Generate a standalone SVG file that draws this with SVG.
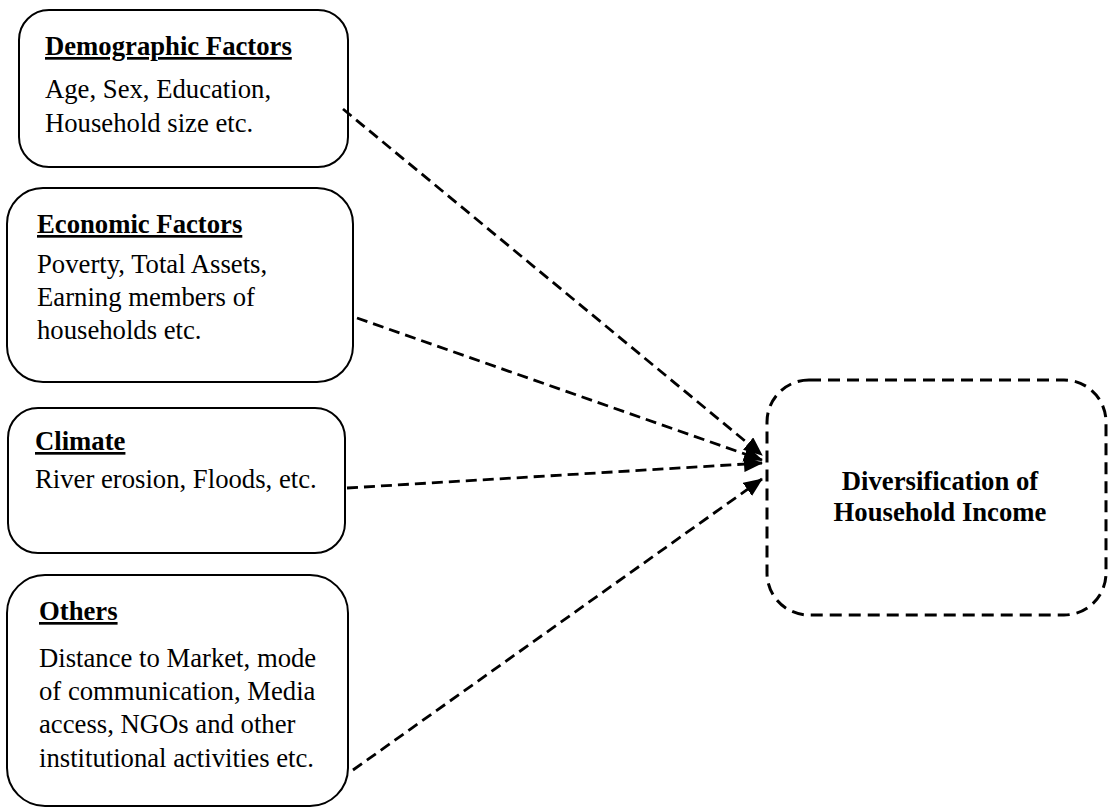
<svg xmlns="http://www.w3.org/2000/svg" width="1108" height="810" viewBox="0 0 1108 810">
<style>
.box{fill:#fff;stroke:#000;stroke-width:2}
.tbox{fill:#fff;stroke:#000;stroke-width:3;stroke-dasharray:12 7}
.h{font-family:"Liberation Serif",serif;font-size:26.7px;font-weight:bold;text-decoration:underline}
.t{font-family:"Liberation Serif",serif;font-size:26.7px}
.c{font-family:"Liberation Serif",serif;font-size:26.7px;font-weight:bold;text-anchor:middle}
.conn{stroke:#000;stroke-width:2.8;stroke-dasharray:11 6;fill:none}
</style>
<defs>
<marker id="ah" markerWidth="19" markerHeight="16" refX="18" refY="8" orient="auto" markerUnits="userSpaceOnUse">
<path d="M0,0 L19,8 L0,16 Z" fill="#000"/>
</marker>
</defs>
<rect width="1108" height="810" fill="#fff"/>
<g id="demographic">
<rect class="box" x="19" y="10" width="329" height="157" rx="30"/>
<text class="h" x="45" y="55">Demographic Factors</text>
<text class="t" x="45" y="98">Age, Sex, Education,</text>
<text class="t" x="45" y="132">Household size etc.</text>
</g>
<g id="economic">
<rect class="box" x="7" y="188" width="346" height="194" rx="36"/>
<text class="h" x="37" y="233">Economic Factors</text>
<text class="t" x="37" y="273">Poverty, Total Assets,</text>
<text class="t" x="37" y="306">Earning members of</text>
<text class="t" x="37" y="339">households etc.</text>
</g>
<g id="climate">
<rect class="box" x="8" y="408" width="337" height="145" rx="30"/>
<text class="h" x="35" y="450">Climate</text>
<text class="t" x="35" y="488">River erosion, Floods, etc.</text>
</g>
<g id="others">
<rect class="box" x="7" y="575" width="341" height="231" rx="38"/>
<text class="h" x="39" y="620">Others</text>
<text class="t" x="39" y="667">Distance to Market, mode</text>
<text class="t" x="39" y="700">of communication, Media</text>
<text class="t" x="39" y="733">access, NGOs and other</text>
<text class="t" x="39" y="767">institutional activities etc.</text>
</g>
<g id="income">
<rect class="tbox" x="767" y="380" width="339" height="235" rx="42"/>
<text class="c" x="940" y="490">Diversification of</text>
<text class="c" x="940" y="521">Household Income</text>
</g>
<g id="connectors">
<line class="conn" x1="343" y1="109" x2="762" y2="455" marker-end="url(#ah)"/>
<line class="conn" x1="357" y1="318" x2="762" y2="460" marker-end="url(#ah)"/>
<line class="conn" x1="347" y1="488" x2="762" y2="463" marker-end="url(#ah)"/>
<line class="conn" x1="353" y1="770" x2="762" y2="479" marker-end="url(#ah)"/>
</g>
</svg>
